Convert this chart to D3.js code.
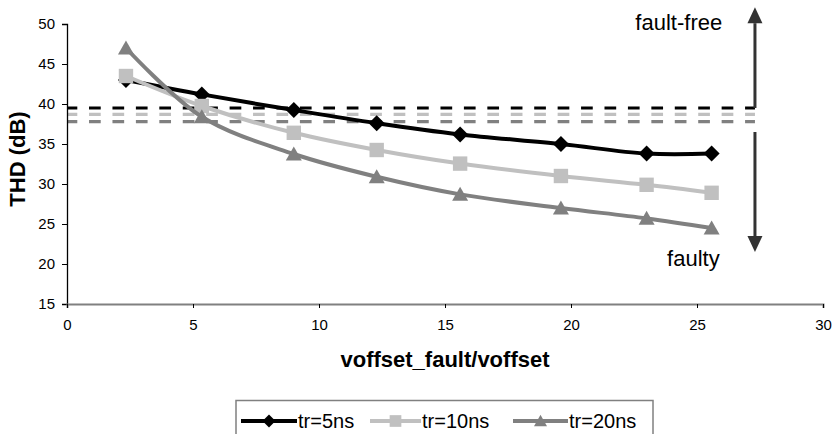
<!DOCTYPE html>
<html>
<head>
<meta charset="utf-8">
<script src="https://cdn.jsdelivr.net/npm/d3@7"></script>
<style>
  html, body { margin: 0; padding: 0; background: #fff; }
  svg { display: block; }
  text { font-family: "Liberation Sans", Arial, sans-serif; }
</style>
</head>
<body>
<svg id="chart" width="836" height="434"></svg>
<script>
// ---- data ----
const xValues = [2.34, 5.35, 9.0, 12.29, 15.6, 19.6, 23.0, 25.58];
const tr5  = [43.0, 41.2, 39.25, 37.6, 36.2, 35.0, 33.8, 33.8];
const tr10 = [43.5, 39.75, 36.4, 34.25, 32.55, 31.0, 29.9, 28.9];
const tr20 = [47.0, 38.4, 33.75, 30.9, 28.7, 27.0, 25.7, 24.5];
const seriesNames = ["tr=5ns", "tr=10ns", "tr=20ns"];
const thresholds = [39.5, 38.7, 37.8];     // fault-free thresholds for each series
const xTicks = [0, 5, 10, 15, 20, 25, 30];
const yTicks = [15, 20, 25, 30, 35, 40, 45, 50];
const thresholdRange = [0, 27.3];            // x extent of dashed lines
const arrowX = 27.3;
const arrowUp = [39.5, 52.1];                // fault-free arrow (from, to)
const arrowDown = [36.5, 21.5];              // faulty arrow (from, to)
const annotations = [
  {text: "fault-free", x: 26.0, y: 49.2},
  {text: "faulty", x: 25.9, y: 19.8}
];

// ---- styles ----
const colors = ["#000000", "#c0c0c0", "#808080"];
const shapes = ["diamond", "square", "triangle"];
const font = '"Liberation Sans", Arial, sans-serif';

const svg = d3.select("#chart");
const x = d3.scaleLinear().domain([0, 30]).range([67, 823]);
const y = d3.scaleLinear().domain([15, 50]).range([304, 24]);

function markerPath(shape, s) {
  const h = s / 2;
  if (shape === "diamond") return `M0,${-h}L${h},0L0,${h}L${-h},0Z`;
  if (shape === "square") return `M${-h*0.9},${-h*0.9}H${h*0.9}V${h*0.9}H${-h*0.9}Z`;
  return `M0,${-h*0.95}L${h},${h*0.8}L${-h},${h*0.8}Z`;
}

// threshold dashed lines
thresholds.forEach((t, i) => {
  svg.append("line")
    .attr("x1", x(thresholdRange[0])).attr("x2", x(thresholdRange[1]))
    .attr("y1", y(t)).attr("y2", y(t))
    .attr("stroke", colors[i]).attr("stroke-width", 3.2)
    .attr("stroke-dasharray", "11.7,11.73")
    .attr("stroke-dashoffset", 1.4);
});

// axes
const yAxis = svg.append("g").attr("transform", `translate(${x(0)},0)`)
  .call(d3.axisLeft(y).tickValues(yTicks).tickSize(5).tickPadding(7).tickFormat(d3.format("d")));
yAxis.select(".domain").attr("stroke", "#000").attr("stroke-width", 1.3);
yAxis.selectAll(".tick line").attr("stroke", "#000");
yAxis.selectAll("text").attr("font-size", 15).attr("font-family", font).attr("fill", "#000");

const xAxis = svg.append("g").attr("transform", `translate(0,${y(15)})`)
  .call(d3.axisBottom(x).tickValues(xTicks).tickSize(4).tickPadding(11).tickFormat(d3.format("d")));
xAxis.select(".domain").attr("stroke", "#808080").attr("stroke-width", 2);
xAxis.selectAll(".tick line").attr("stroke", "#000");
xAxis.selectAll("text").attr("font-size", 15).attr("font-family", font).attr("fill", "#000");

// axis titles
svg.append("text").attr("x", x(15)).attr("y", 367)
  .attr("text-anchor", "middle").attr("font-size", 22).attr("font-weight", "bold")
  .text("voffset_fault/voffset");
svg.append("text").attr("transform", `translate(25,159) rotate(-90)`)
  .attr("text-anchor", "middle").attr("font-size", 22).attr("font-weight", "bold")
  .text("THD (dB)");

// series
const allSeries = [tr5, tr10, tr20];
const line = d3.line().x(d => x(d[0])).y(d => y(d[1])).curve(d3.curveCatmullRom.alpha(0.5));
allSeries.forEach((vals, i) => {
  const pts = xValues.map((xv, j) => [xv, vals[j]]);
  const g = svg.append("g");
  g.append("path").attr("d", line(pts)).attr("fill", "none")
    .attr("stroke", colors[i]).attr("stroke-width", 4);
  g.selectAll("path.m").data(pts).enter().append("path").attr("class", "m")
    .attr("transform", d => `translate(${x(d[0])},${y(d[1])})`)
    .attr("d", markerPath(shapes[i], 16))
    .attr("fill", colors[i]);
});

// arrows
const arrowColor = "#333333";
function arrow(from, to) {
  const x0 = x(arrowX), y0 = y(from), y1 = y(to);
  const dir = y1 < y0 ? -1 : 1;
  const headLen = 16, headW = 7.5;
  svg.append("line").attr("x1", x0).attr("x2", x0).attr("y1", y0).attr("y2", y1 - dir * headLen)
    .attr("stroke", arrowColor).attr("stroke-width", 3);
  svg.append("path")
    .attr("d", `M${x0},${y1}L${x0 + headW},${y1 - dir * headLen}L${x0 - headW},${y1 - dir * headLen}Z`)
    .attr("fill", arrowColor);
}
arrow(arrowUp[0], arrowUp[1]);
arrow(arrowDown[0], arrowDown[1]);

annotations.forEach(a => {
  svg.append("text").attr("x", x(a.x)).attr("y", y(a.y))
    .attr("text-anchor", "end").attr("font-size", 22).attr("fill", "#000")
    .text(a.text);
});

// legend
const legend = svg.append("g");
legend.append("rect").attr("x", 236).attr("y", 400.5).attr("width", 417).attr("height", 45)
  .attr("fill", "#fff").attr("stroke", "#808080").attr("stroke-width", 1.5);
const legendItems = [
  {lx: 241, lw: 56},
  {lx: 370, lw: 51},
  {lx: 513, lw: 55}
];
seriesNames.forEach((name, i) => {
  const it = legendItems[i];
  const ly = 421;
  legend.append("line").attr("x1", it.lx).attr("x2", it.lx + it.lw)
    .attr("y1", ly).attr("y2", ly).attr("stroke", colors[i]).attr("stroke-width", 4);
  legend.append("path").attr("transform", `translate(${it.lx + it.lw / 2},${ly})`)
    .attr("d", markerPath(shapes[i], 13)).attr("fill", colors[i]);
  legend.append("text").attr("x", it.lx + it.lw + 1).attr("y", ly + 7)
    .attr("font-size", 20).attr("fill", "#000").text(name);
});
</script>
</body>
</html>
